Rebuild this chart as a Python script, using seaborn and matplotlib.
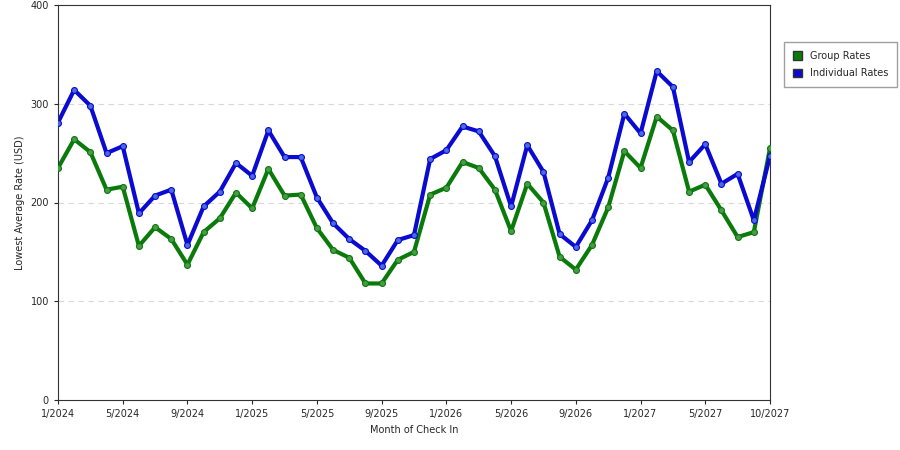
import matplotlib
matplotlib.use("Agg")
import matplotlib.pyplot as plt
import seaborn as sns
import pandas as pd

tick_labels = ["1/2024","5/2024","9/2024","1/2025","5/2025","9/2025","1/2026","5/2026","9/2026","1/2027","5/2027","10/2027"]
individual = [281,314,298,250,257,189,207,213,157,196,211,240,227,273,246,246,205,179,163,151,136,162,167,244,253,277,272,247,196,258,231,168,155,182,225,290,270,333,317,241,259,219,229,182,247]
group = [235,264,251,213,216,156,175,163,137,170,184,210,194,234,207,208,174,152,144,118,118,142,150,208,215,241,235,213,171,219,200,145,132,157,195,252,235,287,273,211,218,192,165,170,255]

n = len(individual)
df = pd.DataFrame({"i": list(range(n))*2,
                   "rate": group + individual,
                   "series": ["Group Rates"]*n + ["Individual Rates"]*n})

sns.set_style("white")
fig = plt.figure(figsize=(9, 4.5), dpi=100)
ax = fig.add_axes([58/900, 50/450, 712/900, 395/450])
pal = {"Group Rates": "#0a7a0a", "Individual Rates": "#0a0ad0"}
sns.lineplot(data=df, x="i", y="rate", hue="series", palette=pal, lw=3, ax=ax, legend=False)
for s, c in [("Group Rates", "#4a9a4a"), ("Individual Rates", "#4a6ae0")]:
    d = df[df.series == s]
    ax.scatter(d.i, d.rate, s=18, color=c, edgecolor=pal[s], linewidth=0.8, zorder=3)

ax.set_xlim(0, n-1)
ax.set_ylim(0, 400)
ax.set_yticks([0,100,200,300,400])
ax.set_xticks([0,4,8,12,16,20,24,28,32,36,40,44])
ax.set_xticklabels(tick_labels)
ax.tick_params(labelsize=7, length=3, direction="out", left=True, bottom=True)
for y in [100,200,300]:
    ax.axhline(y, color="#d8d8d8", ls=(0,(5,4)), lw=0.8, zorder=0)
for sp in ax.spines.values():
    sp.set_color("#333333"); sp.set_linewidth(0.8)
ax.set_xlabel("Month of Check In", fontsize=7)
ax.set_ylabel("Lowest Average Rate (USD)", fontsize=7)

from matplotlib.patches import Patch
h = [Patch(facecolor="#0a7a0a", edgecolor="#333"), Patch(facecolor="#0a0ad0", edgecolor="#333")]
fig.legend(h, ["Group Rates", "Individual Rates"], loc="upper left", bbox_to_anchor=(779/900, 1-37/450),
           fontsize=7, frameon=True, fancybox=False, edgecolor="#888", handlelength=1, handleheight=1,
           borderpad=0.9, labelspacing=0.8)
fig.savefig("out.png", dpi=100)
